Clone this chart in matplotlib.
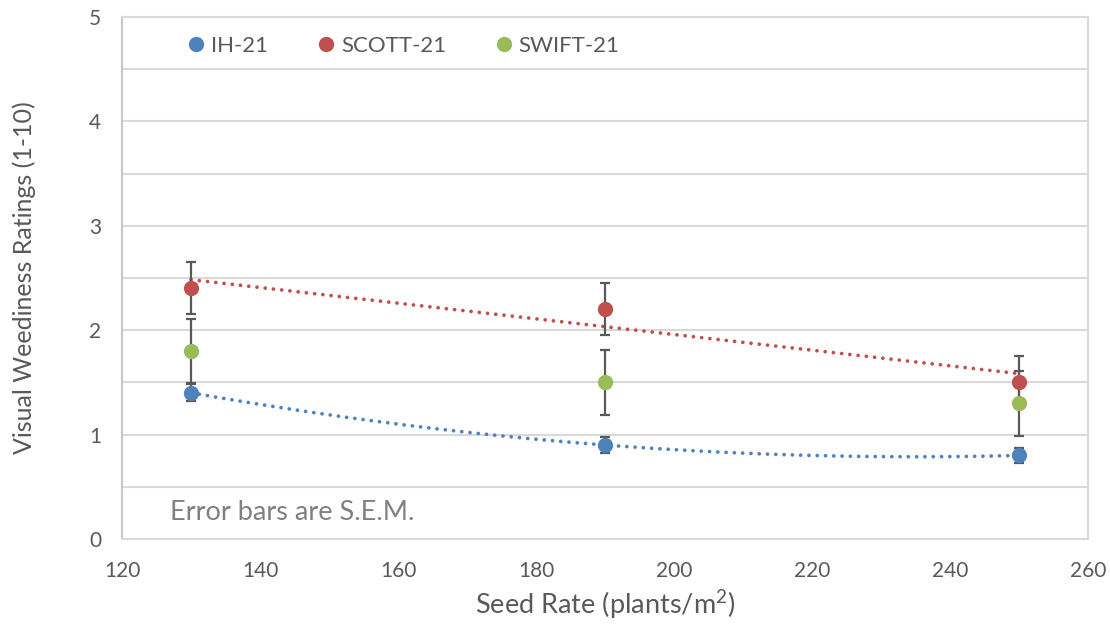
import matplotlib
matplotlib.use("Agg")
import matplotlib.pyplot as plt
import numpy as np

plt.rcParams['font.family'] = ['Lato', 'DejaVu Sans']
plt.rcParams['mathtext.default'] = 'regular'

seed_rate = [130, 190, 250]
ih21 = [1.4, 0.9, 0.8]
ih21_err = [0.08, 0.08, 0.075]
scott21 = [2.4, 2.2, 1.5]
scott21_err = [0.25, 0.25, 0.25]
swift21 = [1.8, 1.5, 1.3]
swift21_err = [0.31, 0.31, 0.31]

series_names = ['IH-21', 'SCOTT-21', 'SWIFT-21']
colors = ['#4F81BD', '#C0504D', '#9BBB59']

fig = plt.figure(figsize=(11.10, 6.26), dpi=100)
ax = fig.add_axes([0.110, 0.139, 0.870, 0.834])

grid_c = '#D9D9D9'
text_c = '#595959'

for v in np.arange(0.5, 5.01, 0.5):
    ax.axhline(v, color=grid_c, lw=1.5, zorder=0)

x = np.array(seed_rate, dtype=float)
xs = np.linspace(x.min(), x.max(), 300)
dot_style = (0, (0.01, 2.2))
p_ih = np.polyfit(x, ih21, 2)
ax.plot(xs, np.polyval(p_ih, xs), color=colors[0], lw=2.7, linestyle=dot_style,
        dash_capstyle='round', zorder=2)
p_sc = np.polyfit(x, scott21, 1)
ax.plot(xs, np.polyval(p_sc, xs), color=colors[1], lw=2.7, linestyle=dot_style,
        dash_capstyle='round', zorder=2)

data = [(ih21, ih21_err), (scott21, scott21_err), (swift21, swift21_err)]
handles = []
for (vals, errs), name, c in zip(data, series_names, colors):
    ax.errorbar(x, vals, yerr=errs, fmt='none', ecolor='#595959', elinewidth=1.6,
                capsize=3.7, capthick=1.6, zorder=3)
    h, = ax.plot(x, vals, 'o', color=c, markersize=11, label=name, zorder=4,
                 markeredgewidth=0)
    handles.append(h)

ax.set_xlim(120, 260)
ax.set_ylim(0, 5)
ax.set_xticks([120, 140, 160, 180, 200, 220, 240, 260])
ax.set_yticks([0, 1, 2, 3, 4, 5])
ax.tick_params(axis='x', length=0, labelsize=15, colors=text_c, pad=16)
ax.tick_params(axis='y', length=0, labelsize=15, colors=text_c, pad=15)

for s in ['left', 'bottom', 'right', 'top']:
    ax.spines[s].set_color(grid_c)
    ax.spines[s].set_linewidth(1.5)
ax.spines['left'].set_color('#C8C8C8')

ax.set_xlabel('Seed Rate (plants/m$^{2}$)', fontsize=19.5, color=text_c)
ax.set_ylabel('Visual Weediness Ratings (1-10)', fontsize=18, color=text_c)
ax.xaxis.set_label_coords(0.5, -0.095)
ax.yaxis.set_label_coords(-0.089, 0.5)

ax.legend(handles=handles, loc='center left', bbox_to_anchor=(0.047, 0.944), ncol=3,
          frameon=False, fontsize=16, labelcolor=text_c, handletextpad=0.27,
          columnspacing=2.2, handlelength=0.8, markerscale=1.0)

ax.text(0.05, 0.05, 'Error bars are S.E.M.', transform=ax.transAxes, fontsize=19.5,
        color='#808080', va='center', ha='left')

fig.savefig('out.png', dpi=100)
